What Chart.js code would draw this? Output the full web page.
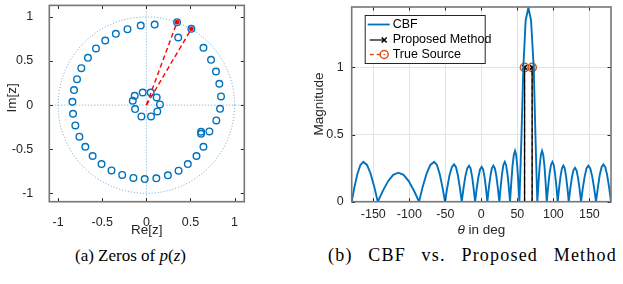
<!DOCTYPE html>
<html>
<head>
<meta charset="utf-8">
<script src="https://cdn.jsdelivr.net/npm/chart.js@4.4.0/dist/chart.umd.min.js"></script>
<style>
  body { margin: 0; background: #fff; width: 623px; height: 284px; position: relative; overflow: hidden; }
  #wrapA { position: absolute; left: 0; top: 0; width: 260px; height: 240px; }
  #wrapB { position: absolute; left: 290px; top: 0; width: 333px; height: 240px; }
  .cap { position: absolute; top: 246px; font-family: "Liberation Serif", "Times New Roman", serif; font-size: 17px; color: #000; white-space: nowrap; }
</style>
</head>
<body>
<div id="wrapA"><canvas id="zplane"></canvas></div>
<div id="wrapB"><canvas id="beam"></canvas></div>
<div class="cap" style="left:75px">(a) Zeros of <i>p</i>(<i>z</i>)</div>
<div class="cap" style="left:328px; top:245px; font-size:18px; letter-spacing:1.2px; word-spacing:10px">(b) CBF vs. Proposed Method</div>
<script>
// zeros of p(z)
const zeroRe = [0.094, -0.064, -0.214, -0.346, -0.466, -0.571, -0.662, -0.737, -0.786, -0.820,
  -0.838, -0.831, -0.805, -0.759, -0.692, -0.609, -0.508, -0.395, -0.274, -0.147,
  -0.019, 0.113, 0.244, 0.365, 0.470, 0.568, 0.647, 0.714, 0.620, 0.620,
  0.793, 0.835, 0.846, 0.827, 0.789, 0.733, 0.647, 0.361, 0.348, 0.510,
  -0.041, 0.049, -0.132, -0.154, 0.117, 0.154, -0.128, 0.124, -0.056, 0.053];
const zeroIm = [0.913, 0.902, 0.860, 0.808, 0.732, 0.642, 0.536, 0.419, 0.294, 0.170,
  0.038, -0.098, -0.230, -0.358, -0.472, -0.577, -0.668, -0.740, -0.792, -0.826,
  -0.838, -0.830, -0.796, -0.743, -0.668, -0.577, -0.472, -0.298, -0.302, -0.325,
  -0.174, -0.042, 0.098, 0.242, 0.381, 0.513, 0.649, 0.766, 0.940, 0.864,
  0.143, 0.143, 0.106, 0.049, 0.087, 0.008, -0.045, -0.072, -0.128, -0.128];
// the two zeros on the unit circle (marked red)
const markRe = [0.348, 0.510];
const markIm = [0.940, 0.864];
const zTicks = [-1, -0.5, 0, 0.5, 1];

// CBF beam pattern
const cbfAngle = [-180, -176, -171.9, -167.9, -163.8, -158.8, -153.8, -148.8, -143.8,
  -136.6, -129.5, -122.4, -115.2, -108.0, -100.9, -93.7, -86.5,
  -81.3, -76.0, -70.8, -65.5, -61.7, -58.0, -54.2, -50.4,
  -47.3, -44.2, -41.0, -37.9, -35.2, -32.6, -29.9, -27.2,
  -24.7, -22.2, -19.6, -17.1, -15.0, -12.9, -10.8, -8.7,
  -6.4, -4.1, -1.8, 0.5, 2.5, 4.4, 6.4, 8.3,
  10.4, 12.5, 14.6, 16.7, 18.8, 20.9, 22.9, 25.0,
  26.9, 28.8, 30.6, 32.5, 34.3, 36.2, 38.0, 39.8,
  41.6, 43.3, 45.1, 46.8, 48.3, 49.8, 51.3, 52.8,
  55.5, 58.3, 61.5, 65.3, 69.0, 72.7, 75.3, 77.7,
  79.4, 81.0, 82.7, 84.3, 85.9, 87.6, 89.2, 90.8,
  92.8, 94.7, 96.7, 98.6, 100.5, 102.3, 104.2, 106.0,
  108.0, 109.9, 111.9, 113.8, 115.7, 117.6, 119.5, 121.3,
  123.5, 125.7, 127.8, 130.0, 132.1, 134.2, 136.3, 138.4,
  140.9, 143.5, 146.0, 148.5, 151.2, 153.9, 156.5, 159.2,
  161.8, 164.3, 166.9, 169.4, 172.1, 174.7, 177.4, 180];
const cbfMag = [0, 0.114, 0.210, 0.274, 0.297, 0.274, 0.210, 0.114, 0,
  0.083, 0.153, 0.200, 0.216, 0.200, 0.153, 0.083, 0,
  0.114, 0.210, 0.274, 0.297, 0.274, 0.210, 0.114, 0,
  0.106, 0.197, 0.257, 0.278, 0.257, 0.197, 0.106, 0,
  0.103, 0.189, 0.248, 0.268, 0.248, 0.189, 0.103, 0,
  0.100, 0.184, 0.240, 0.260, 0.240, 0.184, 0.100, 0,
  0.103, 0.189, 0.248, 0.268, 0.248, 0.189, 0.103, 0,
  0.114, 0.210, 0.274, 0.297, 0.274, 0.210, 0.114, 0,
  0.145, 0.268, 0.350, 0.379, 0.350, 0.268, 0.145, 0,
  0.45, 1.0, 1.35, 1.445, 1.35, 1.0, 0.45, 0,
  0.145, 0.268, 0.350, 0.379, 0.350, 0.268, 0.145, 0,
  0.114, 0.210, 0.274, 0.297, 0.274, 0.210, 0.114, 0,
  0.103, 0.189, 0.248, 0.268, 0.248, 0.189, 0.103, 0,
  0.097, 0.179, 0.234, 0.253, 0.234, 0.179, 0.097, 0,
  0.103, 0.189, 0.248, 0.268, 0.248, 0.189, 0.103, 0,
  0.106, 0.197, 0.257, 0.278, 0.257, 0.197, 0.106, 0];
const propAngle = [60, 70.5];
const propMag = [1, 1];
const srcAngle = [60, 70.5];
const srcMag = [1, 1];
const beamXTicks = [-150, -100, -50, 0, 50, 100, 150];
const beamYTicks = [0, 0.5, 1];

const BLUE = '#0072BD', ORANGE = '#D95319';
const SANS = '"Liberation Sans", Arial, Helvetica, sans-serif';
const tickFont = { family: SANS, size: 12.5 };

// stem: vertical line from 0 to the value, gap between stems
function stems(xs, ys) {
  const pts = [];
  xs.forEach((x, i) => { pts.push({ x: x, y: 0 }, { x: x, y: ys[i] }, { x: x, y: null }); });
  return pts;
}
const topOnly = r => ctx => (ctx.raw && ctx.raw.y ? r : 0);

// draws text pieces [text, italic] centred at (x, y)
function drawPieces(ctx, pieces, x, y, size, rot) {
  ctx.save();
  ctx.translate(x, y);
  if (rot) ctx.rotate(-Math.PI / 2);
  ctx.textBaseline = 'middle';
  ctx.fillStyle = '#262626';
  let w = 0;
  pieces.forEach(p => { ctx.font = (p[1] ? 'italic ' : '') + size + 'px ' + SANS; w += ctx.measureText(p[0]).width; });
  let cx = -w / 2;
  pieces.forEach(p => {
    ctx.font = (p[1] ? 'italic ' : '') + size + 'px ' + SANS;
    ctx.fillText(p[0], cx, 0);
    cx += ctx.measureText(p[0]).width;
  });
  ctx.restore();
}

// box around the axes, inward ticks on all sides, axis titles
const frame = {
  id: 'frame',
  afterDraw(chart, args, opts) {
    const { ctx, chartArea: a, scales: { x, y } } = chart;
    ctx.save();
    ctx.strokeStyle = '#262626';
    ctx.lineWidth = 1;
    ctx.beginPath();
    x.ticks.forEach(t => {
      const px = Math.round(x.getPixelForValue(t.value)) + 0.5;
      ctx.moveTo(px, a.bottom); ctx.lineTo(px, a.bottom - 3.5);
      ctx.moveTo(px, a.top); ctx.lineTo(px, a.top + 3.5);
    });
    y.ticks.forEach(t => {
      const py = Math.round(y.getPixelForValue(t.value)) + 0.5;
      ctx.moveTo(a.left, py); ctx.lineTo(a.left + 3.5, py);
      ctx.moveTo(a.right, py); ctx.lineTo(a.right - 3.5, py);
    });
    ctx.stroke();
    ctx.strokeStyle = '#767676';
    ctx.lineWidth = 1.6;
    ctx.strokeRect(a.left, a.top, a.right - a.left, a.bottom - a.top);
    ctx.restore();
    drawPieces(ctx, opts.xTitle, (a.left + a.right) / 2, a.bottom + 28.5, 13.5, false);
    drawPieces(ctx, opts.yTitle, a.left + opts.yTitleDx, a.top + opts.yTitleDy, 13.5, true);
  }
};

const unitCircle = {
  id: 'unitCircle',
  beforeDatasetsDraw(chart) {
    const { ctx, chartArea: a, scales: { x, y } } = chart;
    const cx = x.getPixelForValue(0), cy = y.getPixelForValue(0);
    const r = x.getPixelForValue(1) - cx;
    ctx.save();
    ctx.strokeStyle = 'rgba(0,114,189,0.6)';
    ctx.lineWidth = 1;
    ctx.setLineDash([1, 2]);
    ctx.beginPath(); ctx.arc(cx, cy, r, 0, Math.PI * 2); ctx.stroke();
    ctx.beginPath();
    ctx.moveTo(a.left, cy); ctx.lineTo(a.right, cy);
    ctx.moveTo(cx, a.top); ctx.lineTo(cx, a.bottom);
    ctx.stroke();
    ctx.restore();
  }
};

const beamLegend = {
  id: 'beamLegend',
  afterDraw(chart) {
    const { ctx, chartArea: a } = chart;
    const lx = a.left + 13, ly = a.top + 8, w = 120, h = 48;
    ctx.save();
    ctx.fillStyle = '#fff';
    ctx.fillRect(lx, ly, w, h);
    ctx.strokeStyle = '#262626';
    ctx.lineWidth = 1;
    ctx.strokeRect(lx + 0.5, ly + 0.5, w, h);
    const rows = [ly + 9.5, ly + 25, ly + 39.5];
    // CBF
    ctx.strokeStyle = BLUE; ctx.lineWidth = 1.8;
    ctx.beginPath(); ctx.moveTo(lx + 3, rows[0]); ctx.lineTo(lx + 25, rows[0]); ctx.stroke();
    // Proposed
    ctx.strokeStyle = '#000'; ctx.lineWidth = 1.2;
    ctx.beginPath(); ctx.moveTo(lx + 5, rows[1]); ctx.lineTo(lx + 19.5, rows[1]); ctx.stroke();
    ctx.lineWidth = 1.5;
    ctx.beginPath();
    ctx.moveTo(lx + 17, rows[1] - 2.5); ctx.lineTo(lx + 22, rows[1] + 2.5);
    ctx.moveTo(lx + 17, rows[1] + 2.5); ctx.lineTo(lx + 22, rows[1] - 2.5);
    ctx.stroke();
    // True source
    ctx.strokeStyle = ORANGE; ctx.lineWidth = 1.5;
    ctx.setLineDash([4, 3]);
    ctx.beginPath(); ctx.moveTo(lx + 5, rows[2]); ctx.lineTo(lx + 16, rows[2]); ctx.stroke();
    ctx.setLineDash([]);
    ctx.beginPath(); ctx.arc(lx + 19.5, rows[2], 4, 0, Math.PI * 2); ctx.stroke();
    ctx.beginPath(); ctx.arc(lx + 19.5, rows[2], 0.8, 0, Math.PI * 2); ctx.fillStyle = ORANGE; ctx.fill();
    ctx.fillStyle = '#000';
    ctx.font = '12.5px ' + SANS;
    ctx.textBaseline = 'middle';
    ctx.fillText('CBF', lx + 28, rows[0]);
    ctx.fillText('Proposed Method', lx + 28, rows[1]);
    ctx.fillText('True Source', lx + 28, rows[2]);
    ctx.restore();
  }
};

function fixedTicks(list) {
  return scale => { scale.ticks = list.map(v => ({ value: v })); };
}
// fixed axis thickness, no extra label overflow padding
const fitX = h => s => { s.height = h; s.paddingLeft = 0; s.paddingRight = 0; };
const fitY = w => s => { s.width = w; s.paddingTop = 0; s.paddingBottom = 0; };
const plain = v => String(v);

new Chart(document.getElementById('zplane'), {
  type: 'scatter',
  data: {
    datasets: [
      {
        data: zeroRe.map((r, i) => ({ x: r, y: zeroIm[i] })),
        pointStyle: 'circle', pointRadius: 3.3, pointBorderWidth: 1.4,
        borderColor: BLUE, backgroundColor: 'rgba(0,0,0,0)'
      },
      ...markRe.map((r, i) => ({
        data: [{ x: 0, y: 0 }, { x: r, y: markIm[i] }],
        showLine: true, borderColor: '#ff0000', borderWidth: 1.4, borderDash: [5, 3], pointRadius: 0
      })),
      {
        data: markRe.map((r, i) => ({ x: r, y: markIm[i] })),
        pointStyle: 'circle', pointRadius: 2.4, pointBorderWidth: 0,
        backgroundColor: '#ff0000', borderColor: '#ff0000'
      }
    ]
  },
  options: {
    responsive: true, maintainAspectRatio: false, animation: false, devicePixelRatio: 1,
    layout: { padding: { left: 0, top: 5.3, right: 15.7, bottom: 0 } },
    plugins: {
      legend: { display: false }, tooltip: { enabled: false },
      frame: { xTitle: [['Re[z]', false]], yTitle: [['Im[z]', false]], yTitleDx: -37.5, yTitleDy: 92.5 }
    },
    scales: {
      x: {
        type: 'linear', min: -1.1, max: 1.11,
        afterBuildTicks: fixedTicks(zTicks),
        afterFit: fitX(38.3),
        grid: { display: false }, border: { display: false },
        ticks: { font: tickFont, color: '#262626', padding: 5, autoSkip: false, maxRotation: 0, callback: plain }
      },
      y: {
        type: 'linear', min: -1.095, max: 1.13,
        afterBuildTicks: fixedTicks(zTicks),
        afterFit: fitY(49.3),
        grid: { display: false }, border: { display: false },
        ticks: { font: tickFont, color: '#262626', padding: 8, autoSkip: false, callback: plain }
      }
    }
  },
  plugins: [unitCircle, frame]
});

new Chart(document.getElementById('beam'), {
  type: 'line',
  data: {
    datasets: [
      {
        data: cbfAngle.map((a, i) => ({ x: a, y: cbfMag[i] })),
        borderColor: BLUE, borderWidth: 1.9, pointRadius: 0, tension: 0
      },
      {
        data: stems(propAngle, propMag),
        borderColor: '#000', borderWidth: 1.3, spanGaps: false,
        pointStyle: 'crossRot', pointRadius: topOnly(3.2), pointBorderWidth: 1.6,
        pointBorderColor: '#000'
      },
      {
        data: stems(srcAngle, srcMag),
        borderColor: ORANGE, borderWidth: 1.4, borderDash: [4, 3], spanGaps: false,
        pointStyle: 'circle', pointRadius: topOnly(4.2), pointBorderWidth: 1.5,
        pointBorderColor: ORANGE, pointBackgroundColor: 'rgba(0,0,0,0)'
      }
    ]
  },
  options: {
    responsive: true, maintainAspectRatio: false, animation: false, devicePixelRatio: 1,
    layout: { padding: { left: 0, top: 7, right: 12, bottom: 0 } },
    plugins: {
      legend: { display: false }, tooltip: { enabled: false },
      frame: { xTitle: [['\u03b8', true], [' in deg', false]], yTitle: [['Magnitude', false]], yTitleDx: -32.5, yTitleDy: 97 }
    },
    scales: {
      x: {
        type: 'linear', min: -180, max: 180,
        afterBuildTicks: fixedTicks(beamXTicks),
        afterFit: fitX(38.3),
        grid: { color: '#e3e3e3', lineWidth: 1, drawTicks: false }, border: { display: false },
        ticks: { font: tickFont, color: '#262626', padding: 5, autoSkip: false, maxRotation: 0, callback: plain }
      },
      y: {
        type: 'linear', min: 0, max: 1.45,
        afterBuildTicks: fixedTicks(beamYTicks),
        afterFit: fitY(61.7),
        grid: { color: '#e3e3e3', lineWidth: 1, drawTicks: false }, border: { display: false },
        ticks: { font: tickFont, color: '#262626', padding: 8, autoSkip: false, callback: plain }
      }
    }
  },
  plugins: [frame, beamLegend]
});
</script>
</body>
</html>
